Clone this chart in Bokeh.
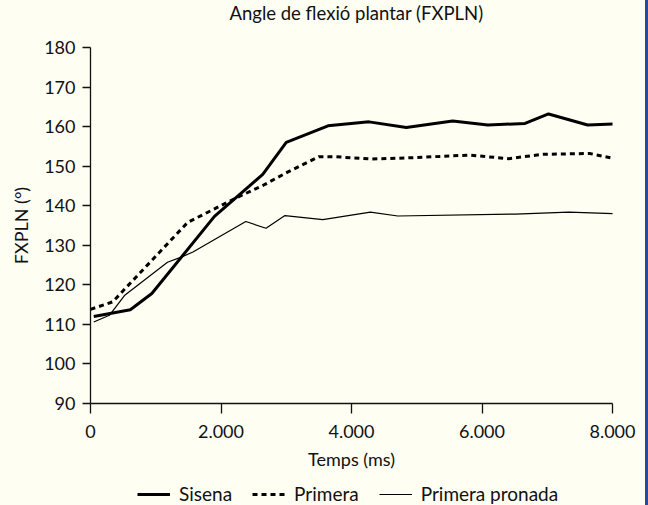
from bokeh.plotting import figure
from bokeh.models import Range1d, FixedTicker, Legend, LegendItem, Label
from bokeh.layouts import column
from bokeh.embed import file_html
from bokeh.resources import INLINE

# ---- data ----
sisena_t = [50, 610, 940, 1900, 2640, 3000, 3640, 4270, 4840, 5550, 6090, 6660, 7020, 7620, 8030]
sisena_v = [112.0, 113.7, 117.8, 137.3, 147.9, 156.0, 160.2, 161.2, 159.8, 161.4, 160.4, 160.8, 163.2, 160.4, 160.7]

primera_t = [0, 340, 1490, 1900, 2260, 2640, 3020, 3500, 3740, 4300, 4870, 5800, 6410, 6930, 7650, 8040]
primera_v = [113.8, 115.7, 135.8, 139.2, 142.2, 145.1, 148.5, 152.4, 152.4, 151.8, 152.1, 152.8, 151.9, 153.0, 153.2, 151.9]

pronada_t = [50, 290, 520, 1180, 1390, 1570, 2380, 2690, 2980, 3560, 4290, 4710, 6510, 7330, 8030]
pronada_v = [110.6, 112.3, 117.3, 125.7, 127.0, 128.3, 136.0, 134.3, 137.5, 136.5, 138.4, 137.4, 137.9, 138.4, 138.0]

series_names = ["Sisena", "Primera", "Primera pronada"]
title_text = "Angle de flexió plantar (FXPLN)"
x_ticks = [0, 2000, 4000, 6000, 8000]
x_tick_labels = ["0", "2.000", "4.000", "6.000", "8.000"]
y_ticks = [90, 100, 110, 120, 130, 140, 150, 160, 170, 180]

FONT = "Lato"
BG = "#fefef3"
INK = "#111111"
W = 645
ML, MR = 90, 33


def strip(height):
    s = figure(width=W, height=height, output_backend="svg", toolbar_location=None,
               x_range=Range1d(0, 1), y_range=Range1d(0, 1),
               x_axis_location=None, y_axis_location=None, min_border=0,
               min_border_left=ML, min_border_right=MR)
    s.background_fill_color = BG
    s.border_fill_color = BG
    s.outline_line_color = None
    s.grid.visible = False
    return s


# title strip
top = strip(25)
top.add_layout(Label(x=266, y=13, x_units="screen", y_units="screen", text=title_text,
                     text_align="center", text_baseline="middle", text_font=FONT,
                     text_font_size="18.5px", text_color=INK))

# main chart
p = figure(width=W, height=448, output_backend="svg", toolbar_location=None,
           x_range=Range1d(0, 8000), y_range=Range1d(90, 180),
           min_border_left=ML, min_border_right=MR, min_border_top=22, min_border_bottom=70)
p.background_fill_color = BG
p.border_fill_color = BG
p.outline_line_color = None
p.grid.visible = False

for ax in (p.xaxis[0], p.yaxis[0]):
    ax.axis_line_color = INK
    ax.axis_line_width = 1.3
    ax.major_tick_line_color = INK
    ax.major_tick_line_width = 1.3
    ax.minor_tick_line_color = None
    ax.major_tick_in = 0
    ax.major_label_text_font = FONT
    ax.major_label_text_font_size = "18px"
    ax.major_label_text_color = INK
    ax.axis_label_text_font = FONT
    ax.axis_label_text_font_size = "18px"
    ax.axis_label_text_font_style = "normal"
    ax.axis_label_text_color = INK

p.xaxis.ticker = FixedTicker(ticks=x_ticks)
p.xaxis.major_label_overrides = dict(zip(x_ticks, x_tick_labels))
p.xaxis.major_tick_out = 10
p.xaxis.major_label_standoff = 11
p.xaxis.axis_label = "Temps (ms)"
p.xaxis.axis_label_standoff = 7

p.yaxis.ticker = FixedTicker(ticks=y_ticks)
p.yaxis.major_tick_out = 8
p.yaxis.major_label_standoff = 7
p.yaxis.axis_label = "FXPLN (°)"
p.yaxis.axis_label_standoff = 9

styles = [dict(line_width=3), dict(line_width=3, line_dash="5 4"), dict(line_width=1.2)]
p.line(sisena_t, sisena_v, line_color="#000000", **styles[0])
p.line(primera_t, primera_v, line_color="#000000", **styles[1])
p.line(pronada_t, pronada_v, line_color="#000000", **styles[2])

# legend strip underneath the chart
lg = strip(32)
# proxy renderers lie outside the strip's ranges, only their legend samples show
proxies = [lg.line([5, 6], [5, 6], line_color="#000000", **s) for s in styles]
legend = Legend(items=[LegendItem(label=n, renderers=[r]) for n, r in zip(series_names, proxies)],
                orientation="horizontal", location=(47, 0),
                background_fill_alpha=0, border_line_color=None,
                label_text_font=FONT, label_text_font_size="19px", label_text_color=INK,
                glyph_width=33, glyph_height=18, label_height=18,
                label_standoff=9, spacing=20, padding=0, margin=0)
lg.add_layout(legend, "center")

layout = column(top, p, lg, spacing=0,
                styles={"border-right": "3px solid #1f4e9a", "background-color": BG})

open("out.html", "w").write(file_html(layout, INLINE))
